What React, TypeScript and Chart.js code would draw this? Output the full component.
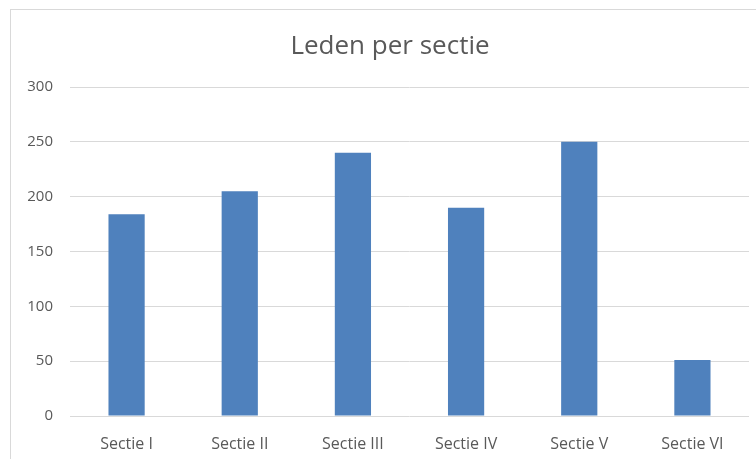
import React, { useEffect, useRef } from "react";
import { Chart, registerables } from "chart.js";

Chart.register(...registerables);

const categories = ["Sectie I", "Sectie II", "Sectie III", "Sectie IV", "Sectie V", "Sectie VI"];
const members = [184, 205, 240, 190, 250, 51];
const yTicks = [0, 50, 100, 150, 200, 250, 300];
const titleText = "Leden per sectie";

const FONT = "'Open Sans', 'Noto Sans', sans-serif";

const titlePlugin = {
  id: "centeredTitle",
  afterDraw(chart: any) {
    const ctx = chart.ctx;
    ctx.save();
    ctx.fillStyle = "#595959";
    ctx.font = `normal 26px ${FONT}`;
    ctx.textAlign = "center";
    ctx.textBaseline = "alphabetic";
    ctx.fillText(titleText, 379, 44);
    ctx.restore();
  },
};

export default function App() {
  const ref = useRef<HTMLCanvasElement | null>(null);

  useEffect(() => {
    document.body.style.overflow = "hidden";
    const canvas = ref.current;
    if (!canvas) return;
    const chart = new Chart(canvas, {
      type: "bar",
      data: {
        labels: categories,
        datasets: [
          {
            label: "Leden",
            data: members,
            backgroundColor: "#4F81BD",
            borderWidth: 0,
            categoryPercentage: 1,
            barPercentage: 0.32,
          },
        ],
      },
      plugins: [titlePlugin],
      options: {
        responsive: false,
        animation: false,
        layout: { padding: { left: 0, right: 22, top: 77, bottom: 0 } },
        plugins: {
          legend: { display: false },
          tooltip: { enabled: false },
          title: { display: false },
        },
        scales: {
          x: {
            grid: { display: false, drawTicks: false },
            border: { display: false },
            ticks: {
              color: "#595959",
              font: { family: FONT, size: 16 },
              padding: 19,
              maxRotation: 0,
            },
            afterFit: (s: any) => {
              s.height = 44;
            },
          },
          y: {
            min: yTicks[0],
            max: yTicks[yTicks.length - 1],
            grid: { color: "#d9d9d9", lineWidth: 1, drawTicks: false },
            border: { display: false },
            ticks: {
              stepSize: yTicks[1] - yTicks[0],
              color: "#595959",
              font: { family: FONT, size: 15 },
              padding: 17,
            },
            afterFit: (s: any) => {
              s.width = 59;
            },
          },
        },
      },
    });
    return () => chart.destroy();
  }, []);

  return (
    <div
      style={{
        position: "absolute",
        left: 10,
        top: 9,
        borderLeft: "1px solid #d9d9d9",
        borderTop: "1px solid #d9d9d9",
        background: "#fff",
      }}
    >
      <canvas ref={ref} width={760} height={450} style={{ display: "block" }} />
    </div>
  );
}
